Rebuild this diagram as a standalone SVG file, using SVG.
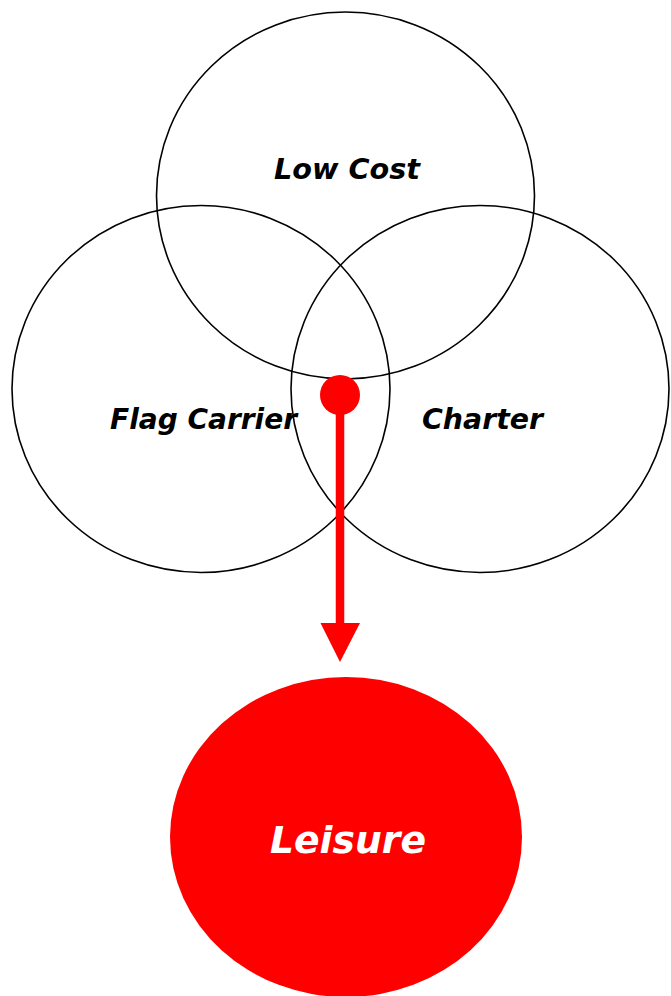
<svg xmlns="http://www.w3.org/2000/svg" width="671" height="996" viewBox="0 0 671 996">
  <style>
    .set { fill: none; stroke: #000; stroke-width: 1.6; }
    .lbl { font-family: "DejaVu Sans", Verdana, sans-serif; font-weight: bold; font-style: italic; text-anchor: middle; }
  </style>
  <rect width="671" height="996" fill="#fff"/>

  <g id="low-cost">
    <ellipse class="set" cx="345.5" cy="195.5" rx="189" ry="183.5"/>
    <text class="lbl" x="347" y="179" font-size="28" textLength="146" lengthAdjust="spacingAndGlyphs">Low Cost</text>
  </g>
  <g id="flag-carrier">
    <ellipse class="set" cx="201" cy="389" rx="189" ry="183.5"/>
    <text class="lbl" x="203.5" y="429" font-size="28" textLength="187" lengthAdjust="spacingAndGlyphs">Flag Carrier</text>
  </g>
  <g id="charter">
    <ellipse class="set" cx="480" cy="389" rx="189" ry="183.5"/>
    <text class="lbl" x="482.5" y="429" font-size="28" textLength="121" lengthAdjust="spacingAndGlyphs">Charter</text>
  </g>

  <g id="connectors">
    <line x1="340" y1="395" x2="340" y2="623" stroke="#ff0000" stroke-width="8.5"/>
    <path d="M320.5,623 L360,623 L340,662 Z" fill="#ff0000"/>
    <circle cx="340" cy="395" r="20" fill="#ff0000"/>
  </g>

  <g id="leisure">
    <ellipse cx="346" cy="837" rx="176" ry="160" fill="#ff0000"/>
    <text class="lbl" x="348" y="853" font-size="38" fill="#fff" textLength="156" lengthAdjust="spacingAndGlyphs">Leisure</text>
  </g>
</svg>
